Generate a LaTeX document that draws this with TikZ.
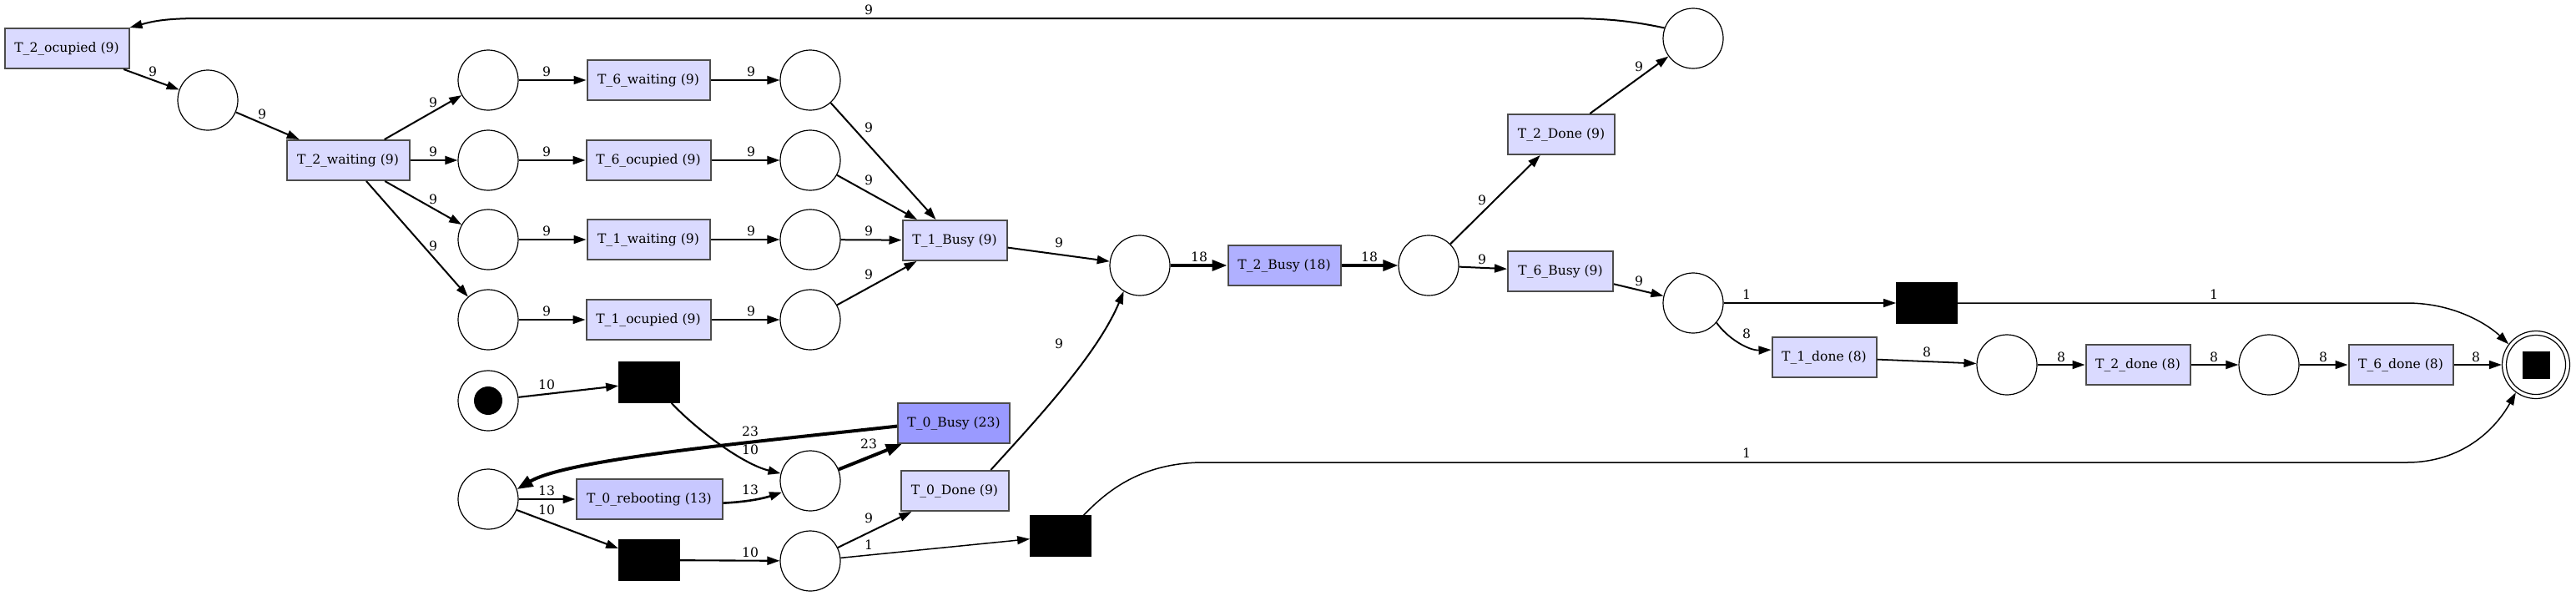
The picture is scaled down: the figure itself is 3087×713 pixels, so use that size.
\documentclass[tikz,border=0pt]{standalone}
\usepackage{fontspec}
\setmainfont{DejaVu Serif}
\usetikzlibrary{arrows.meta}
\definecolor{tlight}{RGB}{218,218,255}
\definecolor{treb}{RGB}{200,200,255}
\definecolor{tbusytwo}{RGB}{176,176,255}
\definecolor{tbusyzero}{RGB}{154,154,255}
\begin{document}
\begin{tikzpicture}[x=0.5pt,y=-0.5pt,
  font=\fontsize{7.8}{9}\selectfont,
  trans/.style={draw=black!70, line width=1pt, fill=tlight, minimum height=24pt, inner sep=0pt},
  place/.style={circle, draw=black, line width=0.6pt, minimum size=36pt, inner sep=0pt},
  blackbox/.style={draw=black, fill=black, minimum width=36.5pt, minimum height=24.5pt, inner sep=0pt},
  lbl/.style={inner sep=0pt, font=\fontsize{7.8}{9}\selectfont},
  arr/.style={-{Triangle[length=7.5pt,width=5pt]}},
  w1/.style={line width=0.75pt},
  w8/.style={line width=0.9pt},
  w9/.style={line width=1pt},
  w10/.style={line width=1.05pt},
  w13/.style={line width=1.3pt},
  w18/.style={line width=1.7pt, -{Triangle[length=9pt,width=6.5pt]}},
  w23/.style={line width=2pt, -{Triangle[length=9.5pt,width=7pt]}}]
\useasboundingbox (0,0) rectangle (3087,713);

% transitions and places
\node[trans, minimum width=74.5pt] (t2ocu) at (80,58) {T\_2\_ocupied (9)};
\node[place] (pA) at (249,120) {};
\node[trans, minimum width=73.5pt] (t2wait) at (417,192) {T\_2\_waiting (9)};
\node[place] (pW1) at (585,96) {};
\node[place] (pW2) at (585,192) {};
\node[place] (pW3) at (585,287) {};
\node[place] (pW4) at (585,383) {};
\node[trans, minimum width=73.5pt] (t6wait) at (777,96) {T\_6\_waiting (9)};
\node[trans, minimum width=74.5pt] (t6ocu) at (777,192) {T\_6\_ocupied (9)};
\node[trans, minimum width=73.5pt] (t1wait) at (777,287) {T\_1\_waiting (9)};
\node[trans, minimum width=74.5pt] (t1ocu) at (777,383) {T\_1\_ocupied (9)};
\node[place] (pR1) at (971,96) {};
\node[place] (pR2) at (971,192) {};
\node[place] (pR3) at (971,287) {};
\node[place] (pR4) at (971,383) {};
\node[trans, minimum width=62.5pt] (t1busy) at (1144,288) {T\_1\_Busy (9)};
\node[place] (pM) at (1366,318) {};
\node[trans, minimum width=67.5pt, fill=tbusytwo] (t2busy) at (1539,318) {T\_2\_Busy (18)};
\node[place] (pB) at (1712,318) {};
\node[trans, minimum width=64pt] (t2done) at (1871,161) {T\_2\_Done (9)};
\node[trans, minimum width=63pt] (t6busy) at (1870,325) {T\_6\_Busy (9)};
\node[place] (pTop) at (2029,46) {};
\node[place] (pC) at (2029,363) {};
\node[blackbox] (blk1) at (2309,363) {};
\node[trans, minimum width=62.5pt] (t1done) at (2186,428) {T\_1\_done (8)};
\node[place] (pD) at (2405,437) {};
\node[trans, minimum width=62.5pt] (t2doneB) at (2562,437) {T\_2\_done (8)};
\node[place] (pE) at (2719,437) {};
\node[trans, minimum width=62.5pt] (t6done) at (2877,437) {T\_6\_done (8)};
\node[place, minimum size=40.5pt] (pF) at (3039,437) {};
\node[place, minimum size=35.5pt] (pFin) at (pF) {};
\node[fill=black, minimum size=16.5pt, inner sep=0pt] (pFsq) at (pF) {};
\node[place] (pStart) at (585,480) {};
\node[circle, fill=black, minimum size=17pt, inner sep=0pt] (tok) at (pStart) {};
\node[blackbox] (blkS) at (778,458) {};
\node[place] (pF0) at (585,598) {};
\node[trans, minimum width=87.5pt, fill=treb] (t0reb) at (778,598) {T\_0\_rebooting (13)};
\node[blackbox] (blk2) at (778,671) {};
\node[place] (pG) at (971,576) {};
\node[trans, minimum width=67pt, fill=tbusyzero] (t0busy) at (1143,507) {T\_0\_Busy (23)};
\node[trans, minimum width=64.5pt] (t0done) at (1144,588) {T\_0\_Done (9)};
\node[place] (pH) at (971,672) {};
\node[blackbox] (blk3) at (1271,642) {};

% arcs
\draw[arr,w9] (pTop.160) .. controls (1950,24) and (1920,22) .. (1874,22) -- (241,22) .. controls (200,22) and (185,25) .. (t2ocu.north east) node[lbl] at (1041,12) {9};
\draw[arr,w9] (t2ocu) -- (pA) node[lbl] at (183,86) {9};
\draw[arr,w9] (pA) -- (t2wait) node[lbl] at (314,137) {9};
\draw[arr,w9] (t2wait) -- (pW1) node[lbl] at (519,123) {9};
\draw[arr,w9] (t2wait) -- (pW2) node[lbl] at (519,182) {9};
\draw[arr,w9] (t2wait) -- (pW3) node[lbl] at (519,239) {9};
\draw[arr,w9] (t2wait) -- (pW4) node[lbl] at (519,295) {9};
\draw[arr,w9] (pW1) -- (t6wait) node[lbl] at (655,86) {9};
\draw[arr,w9] (pW2) -- (t6ocu) node[lbl] at (655,182) {9};
\draw[arr,w9] (pW3) -- (t1wait) node[lbl] at (655,277) {9};
\draw[arr,w9] (pW4) -- (t1ocu) node[lbl] at (655,373) {9};
\draw[arr,w9] (t6wait) -- (pR1) node[lbl] at (900,86) {9};
\draw[arr,w9] (t6ocu) -- (pR2) node[lbl] at (900,182) {9};
\draw[arr,w9] (t1wait) -- (pR3) node[lbl] at (900,277) {9};
\draw[arr,w9] (t1ocu) -- (pR4) node[lbl] at (900,373) {9};
\draw[arr,w9] (pR1) -- (t1busy) node[lbl] at (1041,153) {9};
\draw[arr,w9] (pR2) -- (t1busy) node[lbl] at (1041,216) {9};
\draw[arr,w9] (pR3) -- (t1busy) node[lbl] at (1041,277) {9};
\draw[arr,w9] (pR4) -- (t1busy) node[lbl] at (1041,329) {9};
\draw[arr,w9] (t1busy) -- (pM) node[lbl] at (1269,291) {9};
\draw[arr,w9] (t0done.30) .. controls (1240,505) and (1315,425) .. (pM.238) node[lbl] at (1269,412) {9};
\draw[arr,w18] (pM) -- (t2busy) node[lbl] at (1437,308) {18};
\draw[arr,w18] (t2busy) -- (pB) node[lbl] at (1641,308) {18};
\draw[arr,w9] (pB) -- (t2done) node[lbl] at (1776,240) {9};
\draw[arr,w9] (pB) -- (t6busy) node[lbl] at (1776,311) {9};
\draw[arr,w9] (t2done) -- (pTop) node[lbl] at (1964,80) {9};
\draw[arr,w9] (t6busy) -- (pC) node[lbl] at (1964,337) {9};
\draw[arr,w1] (pC) -- (blk1) node[lbl] at (2093,353) {1};
\draw[arr,w8] (pC.-40) .. controls (2070,405) and (2095,420) .. (t1done.172) node[lbl] at (2093,400) {8};
\draw[arr,w1] (blk1) -- (2884,363) .. controls (2945,363) and (2985,392) .. (pF.143) node[lbl] at (2653,353) {1};
\draw[arr,w8] (t1done) -- (pD) node[lbl] at (2309,422) {8};
\draw[arr,w8] (pD) -- (t2doneB) node[lbl] at (2470,428) {8};
\draw[arr,w8] (t2doneB) -- (pE) node[lbl] at (2653,428) {8};
\draw[arr,w8] (pE) -- (t6done) node[lbl] at (2784,428) {8};
\draw[arr,w8] (t6done) -- (pF) node[lbl] at (2967,428) {8};
\draw[arr,w10] (pStart) -- (blkS) node[lbl] at (655,461) {10};
\draw[arr,w10] (blkS.-43) .. controls (835,515) and (890,556) .. (pG.166) node[lbl] at (899,539) {10};
\draw[arr,w23] (t0busy.183) .. controls (900,530) and (680,550) .. (pF0.19) node[lbl] at (899,517) {23};
\draw[arr,w13] (pF0) -- (t0reb) node[lbl] at (655,588) {13};
\draw[arr,w10] (pF0) -- (blk2) node[lbl] at (655,611) {10};
\draw[arr,w13] (t0reb.-3) .. controls (900,601) and (918,596) .. (pG.202) node[lbl] at (899,587) {13};
\draw[arr,w23] (pG) -- (t0busy) node[lbl] at (1041,532) {23};
\draw[arr,w10] (blk2) -- (pH) node[lbl] at (899,662) {10};
\draw[arr,w9] (pH) -- (t0done) node[lbl] at (1041,621) {9};
\draw[arr,w1] (pH) -- (blk3) node[lbl] at (1041,653) {1};
\draw[arr,w1] (blk3.42) .. controls (1325,590) and (1365,555) .. (1440,554) -- (2884,554) .. controls (2950,554) and (2990,515) .. (pF.234) node[lbl] at (2093,543) {1};
\end{tikzpicture}
\end{document}
